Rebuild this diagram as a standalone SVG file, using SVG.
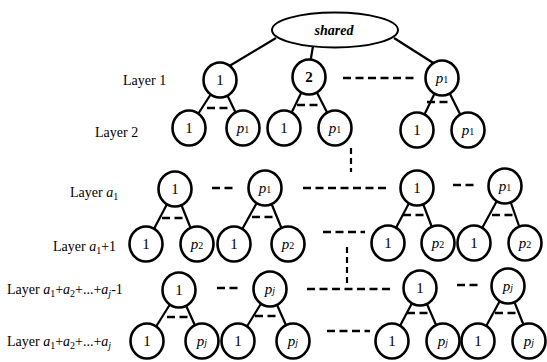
<svg xmlns="http://www.w3.org/2000/svg" width="547" height="362" viewBox="0 0 547 362">
  <style>
    .edge { stroke: #000; stroke-width: 2.2; fill: none; }
    .dash { stroke: #000; stroke-width: 2.6; fill: none; stroke-dasharray: 8 4.5; }
    .vdash { stroke: #000; stroke-width: 2.2; fill: none; stroke-dasharray: 6 4; }
    .node ellipse { fill: #fff; stroke: #000; stroke-width: 2.6; }
    .node text { font-family: "Liberation Serif", "Times New Roman", serif; font-size: 15px; text-anchor: middle; fill: #000; }
    .lbl { font-family: "Liberation Serif", "Times New Roman", serif; font-size: 14px; fill: #000; }
    .it { font-style: italic; }
    .sub { font-size: 10px; }
  </style>
  <rect width="547" height="362" fill="#fff"/>

  <g id="connectors">
    <!-- root to first layer -->
    <line class="edge" x1="276" y1="38" x2="226" y2="68"/>
    <line class="edge" x1="313" y1="46" x2="310" y2="64"/>
    <line class="edge" x1="394" y1="38" x2="438" y2="66"/>
    <!-- layer 1 to layer 2 -->
    <line class="edge" x1="220" y1="80" x2="189" y2="128"/>
    <line class="edge" x1="220" y1="80" x2="243" y2="128"/>
    <line class="edge" x1="309" y1="77" x2="284" y2="128"/>
    <line class="edge" x1="309" y1="77" x2="335" y2="128"/>
    <line class="edge" x1="442" y1="78" x2="417" y2="130"/>
    <line class="edge" x1="442" y1="78" x2="468" y2="130"/>
    <!-- layer a1 to layer a1+1 -->
    <line class="edge" x1="175" y1="189" x2="146" y2="244"/>
    <line class="edge" x1="175" y1="189" x2="197" y2="244"/>
    <line class="edge" x1="265" y1="188" x2="234" y2="244"/>
    <line class="edge" x1="265" y1="188" x2="288" y2="244"/>
    <line class="edge" x1="417" y1="188" x2="388" y2="243"/>
    <line class="edge" x1="417" y1="188" x2="438" y2="243"/>
    <line class="edge" x1="505" y1="186" x2="474" y2="243"/>
    <line class="edge" x1="505" y1="186" x2="525" y2="243"/>
    <!-- layer aj-1 to layer aj -->
    <line class="edge" x1="179" y1="290" x2="147" y2="341"/>
    <line class="edge" x1="179" y1="290" x2="202" y2="341"/>
    <line class="edge" x1="270" y1="289" x2="238" y2="341"/>
    <line class="edge" x1="270" y1="289" x2="293" y2="341"/>
    <line class="edge" x1="420" y1="288" x2="392" y2="341"/>
    <line class="edge" x1="420" y1="288" x2="443" y2="341"/>
    <line class="edge" x1="508" y1="286" x2="478" y2="341"/>
    <line class="edge" x1="508" y1="286" x2="530" y2="341"/>

    <!-- elided siblings -->
    <line class="dash" x1="343" y1="78" x2="415" y2="78"/>
    <line class="dash" x1="207" y1="108" x2="228" y2="108"/>
    <line class="dash" x1="297" y1="105" x2="318" y2="105"/>
    <line class="dash" x1="427" y1="102" x2="450" y2="102"/>

    <line class="dash" x1="212" y1="188" x2="234" y2="188"/>
    <line class="dash" x1="303" y1="188" x2="388" y2="188"/>
    <line class="dash" x1="453" y1="185" x2="475" y2="185"/>
    <line class="dash" x1="162" y1="218" x2="184" y2="218"/>
    <line class="dash" x1="252" y1="217" x2="274" y2="217"/>
    <line class="dash" x1="403" y1="215" x2="424" y2="215"/>
    <line class="dash" x1="492" y1="215" x2="514" y2="215"/>
    <line class="dash" x1="323" y1="232" x2="365" y2="232"/>

    <line class="dash" x1="217" y1="288" x2="239" y2="288"/>
    <line class="dash" x1="307" y1="289" x2="393" y2="289"/>
    <line class="dash" x1="457" y1="285" x2="479" y2="285"/>
    <line class="dash" x1="167" y1="317" x2="188" y2="317"/>
    <line class="dash" x1="255" y1="316" x2="277" y2="316"/>
    <line class="dash" x1="407" y1="313" x2="429" y2="313"/>
    <line class="dash" x1="495" y1="313" x2="517" y2="313"/>
    <line class="dash" x1="327" y1="331" x2="370" y2="331"/>

    <!-- elided layers -->
    <line class="vdash" x1="351" y1="148" x2="351" y2="172"/>
    <line class="vdash" x1="347" y1="247" x2="347" y2="283"/>
  </g>

  <!-- layer labels -->
  <g id="labels">
    <text class="lbl" x="123" y="85">Layer 1</text>
    <text class="lbl" x="95" y="137">Layer 2</text>
    <text class="lbl" x="70" y="197">Layer <tspan class="it">a</tspan><tspan class="sub" dy="3">1</tspan></text>
    <text class="lbl" x="53" y="251">Layer <tspan class="it">a</tspan><tspan class="sub" dy="3">1</tspan><tspan dy="-3">+1</tspan></text>
    <text class="lbl" x="7" y="294">Layer <tspan class="it">a</tspan><tspan class="sub" dy="3">1</tspan><tspan dy="-3">+</tspan><tspan class="it">a</tspan><tspan class="sub" dy="3">2</tspan><tspan dy="-3">+...+</tspan><tspan class="it">a</tspan><tspan class="sub it" dy="3">j</tspan><tspan dy="-3">-1</tspan></text>
    <text class="lbl" x="7" y="346">Layer <tspan class="it">a</tspan><tspan class="sub" dy="3">1</tspan><tspan dy="-3">+</tspan><tspan class="it">a</tspan><tspan class="sub" dy="3">2</tspan><tspan dy="-3">+...+</tspan><tspan class="it">a</tspan><tspan class="sub it" dy="3">j</tspan></text>
  </g>

  <g id="shared" class="node">
    <ellipse cx="335" cy="30" rx="63" ry="17.5" style="stroke-width:2"/>
    <text x="334" y="35" style="font-style:italic;font-weight:bold;font-size:14px">shared</text>
  </g>

  <!-- layer 1 -->
  <g id="l1-1" class="node"><ellipse cx="220" cy="80" rx="16.5" ry="17.5"/><text x="220" y="85">1</text></g>
  <g id="l1-2" class="node"><ellipse cx="309" cy="77" rx="16.5" ry="17.5"/><text x="309" y="82" font-weight="bold">2</text></g>
  <g id="l1-p1" class="node"><ellipse cx="442" cy="78" rx="16.5" ry="17.5"/><text x="442" y="83"><tspan class="it">p</tspan><tspan class="sub">1</tspan></text></g>

  <!-- layer 2 -->
  <g id="l2-a" class="node"><ellipse cx="189" cy="128" rx="16.5" ry="17.5"/><text x="189" y="133">1</text></g>
  <g id="l2-b" class="node"><ellipse cx="243" cy="128" rx="16.5" ry="17.5"/><text x="243" y="133"><tspan class="it">p</tspan><tspan class="sub">1</tspan></text></g>
  <g id="l2-c" class="node"><ellipse cx="284" cy="128" rx="16.5" ry="17.5"/><text x="284" y="133">1</text></g>
  <g id="l2-d" class="node"><ellipse cx="335" cy="128" rx="16.5" ry="17.5"/><text x="335" y="133"><tspan class="it">p</tspan><tspan class="sub">1</tspan></text></g>
  <g id="l2-e" class="node"><ellipse cx="417" cy="130" rx="16.5" ry="17.5"/><text x="417" y="135">1</text></g>
  <g id="l2-f" class="node"><ellipse cx="468" cy="130" rx="16.5" ry="17.5"/><text x="468" y="135"><tspan class="it">p</tspan><tspan class="sub">1</tspan></text></g>

  <!-- layer a1 -->
  <g id="la1-a" class="node"><ellipse cx="175" cy="189" rx="16.5" ry="17.5"/><text x="175" y="194">1</text></g>
  <g id="la1-b" class="node"><ellipse cx="265" cy="188" rx="16.5" ry="17.5"/><text x="265" y="193"><tspan class="it">p</tspan><tspan class="sub">1</tspan></text></g>
  <g id="la1-c" class="node"><ellipse cx="417" cy="188" rx="16.5" ry="17.5"/><text x="417" y="193">1</text></g>
  <g id="la1-d" class="node"><ellipse cx="505" cy="186" rx="16.5" ry="17.5"/><text x="505" y="191"><tspan class="it">p</tspan><tspan class="sub">1</tspan></text></g>

  <!-- layer a1+1 -->
  <g id="la1p-a" class="node"><ellipse cx="146" cy="244" rx="16.5" ry="17.5"/><text x="146" y="249">1</text></g>
  <g id="la1p-b" class="node"><ellipse cx="197" cy="244" rx="16.5" ry="17.5"/><text x="197" y="249"><tspan class="it">p</tspan><tspan class="sub">2</tspan></text></g>
  <g id="la1p-c" class="node"><ellipse cx="234" cy="244" rx="16.5" ry="17.5"/><text x="234" y="249">1</text></g>
  <g id="la1p-d" class="node"><ellipse cx="288" cy="244" rx="16.5" ry="17.5"/><text x="288" y="249"><tspan class="it">p</tspan><tspan class="sub">2</tspan></text></g>
  <g id="la1p-e" class="node"><ellipse cx="388" cy="243" rx="16.5" ry="17.5"/><text x="388" y="248">1</text></g>
  <g id="la1p-f" class="node"><ellipse cx="438" cy="243" rx="16.5" ry="17.5"/><text x="438" y="248"><tspan class="it">p</tspan><tspan class="sub">2</tspan></text></g>
  <g id="la1p-g" class="node"><ellipse cx="474" cy="243" rx="16.5" ry="17.5"/><text x="474" y="248">1</text></g>
  <g id="la1p-h" class="node"><ellipse cx="525" cy="243" rx="16.5" ry="17.5"/><text x="525" y="248"><tspan class="it">p</tspan><tspan class="sub">2</tspan></text></g>

  <!-- layer aj-1 -->
  <g id="laj1-a" class="node"><ellipse cx="179" cy="290" rx="16.5" ry="17.5"/><text x="179" y="295">1</text></g>
  <g id="laj1-b" class="node"><ellipse cx="270" cy="289" rx="16.5" ry="17.5"/><text x="270" y="294"><tspan class="it">p</tspan><tspan class="sub it">j</tspan></text></g>
  <g id="laj1-c" class="node"><ellipse cx="420" cy="288" rx="16.5" ry="17.5"/><text x="420" y="293">1</text></g>
  <g id="laj1-d" class="node"><ellipse cx="508" cy="286" rx="16.5" ry="17.5"/><text x="508" y="291"><tspan class="it">p</tspan><tspan class="sub it">j</tspan></text></g>

  <!-- layer aj -->
  <g id="laj-a" class="node"><ellipse cx="147" cy="341" rx="16.5" ry="17.5"/><text x="147" y="346">1</text></g>
  <g id="laj-b" class="node"><ellipse cx="202" cy="341" rx="16.5" ry="17.5"/><text x="202" y="346"><tspan class="it">p</tspan><tspan class="sub it">j</tspan></text></g>
  <g id="laj-c" class="node"><ellipse cx="238" cy="341" rx="16.5" ry="17.5"/><text x="238" y="346">1</text></g>
  <g id="laj-d" class="node"><ellipse cx="293" cy="341" rx="16.5" ry="17.5"/><text x="293" y="346"><tspan class="it">p</tspan><tspan class="sub it">j</tspan></text></g>
  <g id="laj-e" class="node"><ellipse cx="392" cy="341" rx="16.5" ry="17.5"/><text x="392" y="346">1</text></g>
  <g id="laj-f" class="node"><ellipse cx="443" cy="341" rx="16.5" ry="17.5"/><text x="443" y="346"><tspan class="it">p</tspan><tspan class="sub it">j</tspan></text></g>
  <g id="laj-g" class="node"><ellipse cx="478" cy="341" rx="16.5" ry="17.5"/><text x="478" y="346">1</text></g>
  <g id="laj-h" class="node"><ellipse cx="529" cy="341" rx="16.5" ry="17.5"/><text x="529" y="346"><tspan class="it">p</tspan><tspan class="sub it">j</tspan></text></g>
</svg>
